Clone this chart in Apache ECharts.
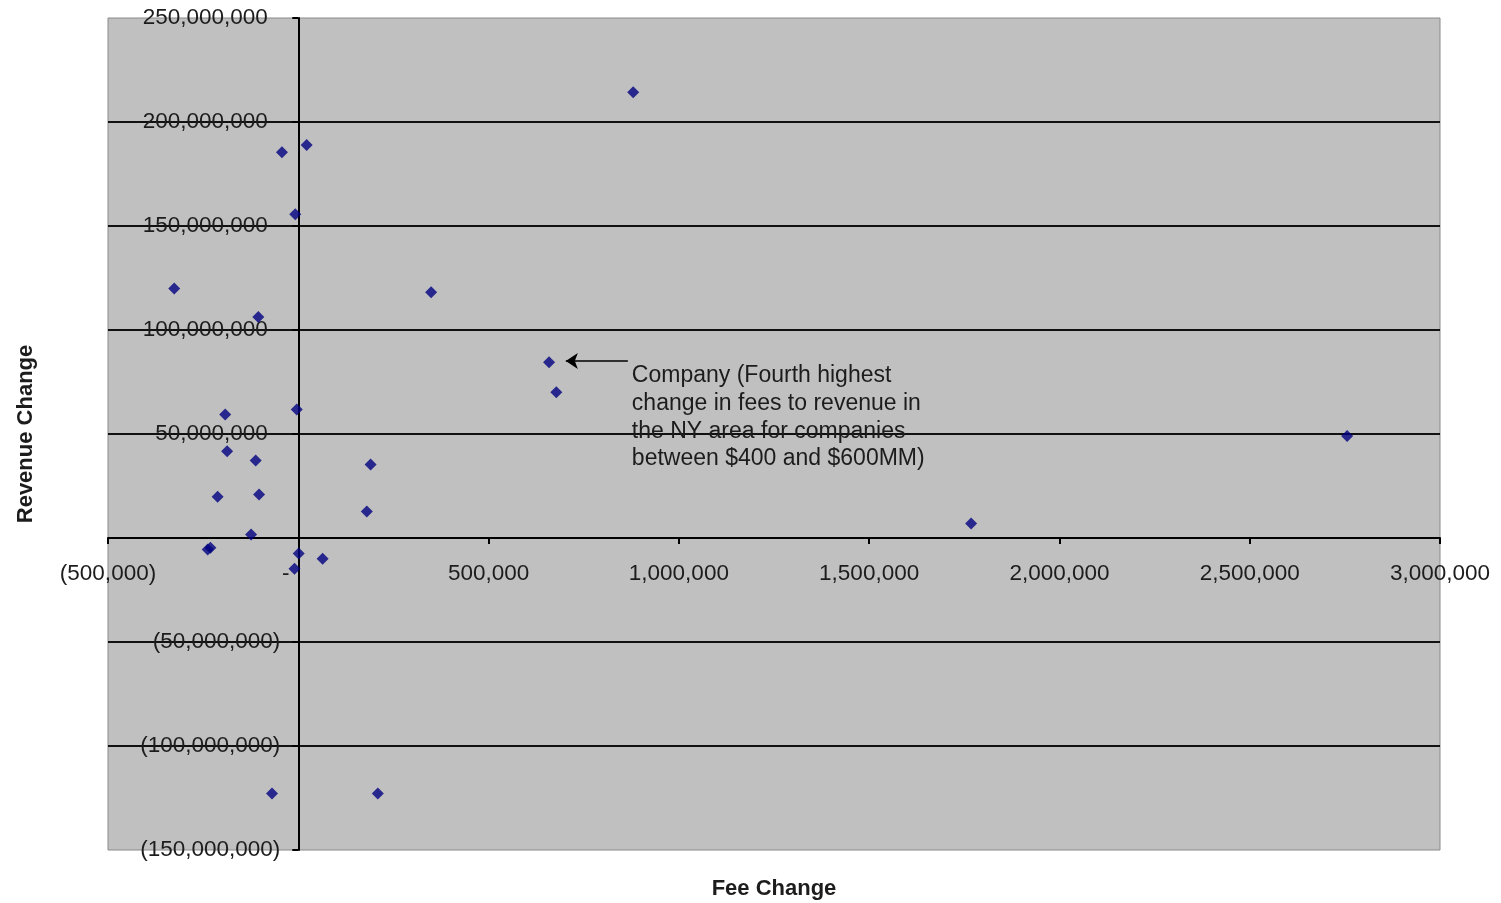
<!DOCTYPE html>
<html>
<head>
<meta charset="utf-8">
<style>
  html, body { margin: 0; padding: 0; background: #ffffff; }
  #chart { width: 1501px; height: 903px; }
</style>
<script src="https://cdn.jsdelivr.net/npm/echarts@6/dist/echarts.min.js"></script>
</head>
<body>
<div id="chart"></div>
<script>
// Fee change vs. revenue change, one point per company (USD)
const feeChange = [
  880000, -43000, 22000, -8000, -326000, -105000, 349000, 659000, 678000,
  -4000, -192000, 2756000, -187000, -112000, 190000, -212000, -103000,
  180000, 1768000, -124000, -238000, -231000, 1000, 64000, -10000,
  -69000, 209000
];
const revenueChange = [
  214300000, 185500000, 189000000, 155700000, 120000000, 106300000, 118200000, 84500000, 70100000,
  61800000, 59400000, 49000000, 41700000, 37300000, 35300000, 19800000, 20900000,
  12700000, 7000000, 1700000, -5500000, -4700000, -7500000, -10000000, -14800000,
  -122800000, -122800000
];

// Axis ranges and tick spacing
const xRange = { min: -500000, max: 3000000, step: 500000 };
const yRange = { min: -150000000, max: 250000000, step: 50000000 };

// Callout pointing at the highlighted company
const arrowTail = [866000, 85100000];
const arrowHead = [703000, 85100000];
const calloutLines = [
  'Company (Fourth highest',
  'change in fees to revenue in',
  'the NY area for companies',
  'between $400 and $600MM)'
];

const FONT = "'Liberation Sans', Arial, sans-serif";
const TEXT = '#1c1c1c';
const GRID = { left: 108, right: 61, top: 18, bottom: 53 };
const W = 1501, H = 903;

function fmtNum(v) {
  return Math.abs(v).toLocaleString('en-US');
}

const points = feeChange.map((x, i) => [x, revenueChange[i]]);

const chart = echarts.init(document.getElementById('chart'), null, { renderer: 'canvas' });

chart.setOption({
  backgroundColor: '#ffffff',
  animation: false,
  grid: {
    left: GRID.left, right: GRID.right, top: GRID.top, bottom: GRID.bottom,
    containLabel: false,
    outerBoundsMode: 'none',
    show: true,
    backgroundColor: '#c0c0c0',
    borderColor: '#8a8a8a',
    borderWidth: 1
  },
  xAxis: {
    type: 'value',
    position: 'bottom',
    min: xRange.min, max: xRange.max, interval: xRange.step,
    name: 'Fee Change',
    nameLocation: 'middle',
    nameGap: 340,
    nameTextStyle: { fontFamily: FONT, fontSize: 22, fontWeight: 'bold', color: TEXT },
    axisLine: { onZero: false, lineStyle: { color: '#000', width: 2 } },
    axisTick: { show: true, inside: false, length: 6, lineStyle: { color: '#000', width: 2 } },
    axisLabel: {
      margin: 24,
      fontFamily: FONT, fontSize: 22.5, color: TEXT,
      showMinLabel: true, showMaxLabel: true,
      hideOverlap: false,
      formatter: v => v === 0 ? '-\u2007\u2007' : (v < 0 ? '(' + fmtNum(v) + ')' : fmtNum(v))
    },
    splitLine: { show: false }
  },
  yAxis: {
    type: 'value',
    position: 'left',
    min: yRange.min, max: yRange.max, interval: yRange.step,
    name: 'Revenue Change',
    nameLocation: 'middle',
    nameGap: 261,
    nameRotate: 90,
    nameTextStyle: { fontFamily: FONT, fontSize: 22, fontWeight: 'bold', color: TEXT },
    axisLine: { onZero: false, lineStyle: { color: '#000', width: 2 } },
    axisTick: { show: true, inside: false, length: 6, lineStyle: { color: '#000', width: 2 } },
    axisLabel: {
      margin: 18,
      fontFamily: FONT, fontSize: 22.5, color: TEXT,
      showMinLabel: true, showMaxLabel: true,
      hideOverlap: false,
      formatter: v => v === 0 ? '' : (v < 0 ? '(' + fmtNum(v) + ')' : fmtNum(v) + '  ')
    },
    splitLine: {
      show: true,
      showMinLine: false,
      showMaxLine: false,
      lineStyle: { color: '#111', width: 2 }
    }
  },
  series: [
    {
      type: 'scatter',
      data: points,
      symbol: 'diamond',
      symbolSize: 12,
      itemStyle: { color: '#000080' },
      z: 5,
      markLine: {
        silent: true,
        symbol: ['none', 'arrow'],
        symbolSize: 12,
        label: { show: false },
        lineStyle: { color: '#000', width: 1.5, type: 'solid' },
        data: [[ { coord: arrowTail }, { coord: arrowHead } ]]
      }
    }
  ]
});

// Both axes cross at the origin: shift each axis (line, ticks, labels, name)
// from the grid edge to where the other axis reads zero.
const origin = chart.convertToPixel({ gridIndex: 0 }, [0, 0]);
const yAxisShift = origin[0] - GRID.left;
const xAxisShift = (H - GRID.bottom) - origin[1];

// Callout text beside the arrow tail, in data coordinates
const anchor = chart.convertToPixel({ gridIndex: 0 }, arrowTail);

chart.setOption({
  xAxis: { offset: -xAxisShift },
  yAxis: { offset: -yAxisShift },
  graphic: [{
    type: 'text',
    left: anchor[0] + 4,
    top: anchor[1] + 1,
    z: 10,
    style: {
      text: calloutLines.join('\n'),
      font: '23px ' + FONT,
      fill: TEXT,
      lineHeight: 27.7
    }
  }]
});
</script>
</body>
</html>
